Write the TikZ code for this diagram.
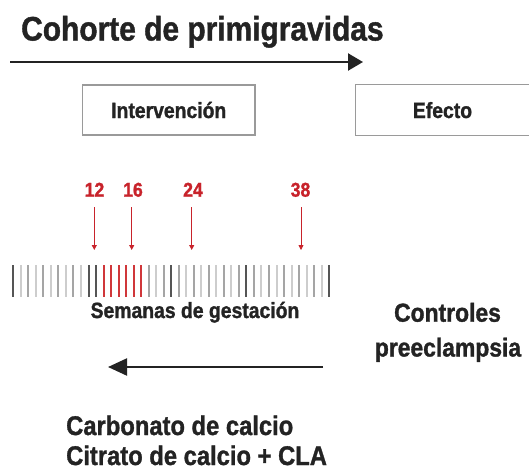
\documentclass[tikz,border=0pt]{standalone}
\usepackage{fontspec}
\newfontfamily\cf{Liberation Sans}[FakeStretch=0.88, BoldFeatures={FakeBold=1.2}]
\usetikzlibrary{arrows.meta}
\definecolor{ink}{HTML}{232323}
\definecolor{redc}{HTML}{C8232B}
\definecolor{boxgray}{HTML}{9A9A9A}
\definecolor{barlight}{HTML}{CDCDCD}
\definecolor{barmid}{HTML}{A5A5A5}
\definecolor{bardark}{HTML}{555555}
\definecolor{barred}{HTML}{D0373A}
\tikzset{
  txt/.style={inner sep=0pt, text=ink, font=\cf\bfseries},
  labelbox/.style={draw=boxgray, line width=1.1pt, inner sep=0pt, text=ink,
     font=\cf\bfseries\fontsize{22}{26}\selectfont, minimum height=50pt, text height=16pt, text depth=0pt},
  num/.style={inner sep=0pt, text=redc, font=\cf\bfseries\fontsize{20}{24}\selectfont, anchor=base},
  redarrow/.style={draw=redc, line width=0.8pt, -{Triangle[length=5pt,width=5pt]}},
  bigarrow/.style={draw=ink, line width=2.2pt, -{Triangle[length=15pt,width=17pt]}},
  bar/.style={line width=2pt}
}
\begin{document}
\begin{tikzpicture}[x=1pt,y=-1pt]
\useasboundingbox[fill=white] (0,0) rectangle (529,474);
% title
\node[txt, anchor=base west, font=\cf\bfseries\fontsize{34}{40}\selectfont] (title) at (21,40.5) {Cohorte de primigravidas};
\coordinate (a1) at (10,62);
\coordinate (a2) at (363,62);
\draw[bigarrow] (a1) -- (a2);
% boxes
\node[labelbox, minimum width=172.5pt] (interv) at (168.75,110) {Intervención};
\node[labelbox, draw=none, minimum width=173pt] (efecto) at (442.5,110) {Efecto};
\draw[boxgray, line width=1.1pt] (efecto.north east) -- (efecto.north west) -- (efecto.south west) -- (efecto.south east);
% numbers
\node[num] (n12) at (94.5,196.7) {12};
\node[num] (n16) at (133,196.7) {16};
\node[num] (n24) at (193,196.7) {24};
\node[num] (n38) at (300.5,196.7) {38};
\foreach \n/\x in {n12/94.3,n16/131.7,n24/191.7,n38/301}{
  \draw[redarrow] (\x,207) -- (\x,250);
}
% bars
\foreach \i in {1,3,5,7,9,19,23,25,27,29,33,35,37,39,41}{
  \draw[bar, barlight] ({13.3+7.52*\i},265) -- ({13.3+7.52*\i},297);}
\foreach \i in {2,4,6,8,18,20,22,24,26,28,30,32,34,36,38,40}{
  \draw[bar, barmid] ({13.3+7.52*\i},265) -- ({13.3+7.52*\i},297);}
\foreach \i in {0,10,11,21,31,42}{
  \draw[bar, bardark] ({13.3+7.52*\i},265) -- ({13.3+7.52*\i},297);}
\foreach \i in {12,...,17}{
  \draw[bar, barred] ({13.3+7.52*\i},265) -- ({13.3+7.52*\i},297);}
\node[txt, anchor=base, font=\cf\bfseries\fontsize{22}{26}\selectfont] (semanas) at (195,318) {Semanas de gestación};
% right text
\node[txt, anchor=base, font=\cf\bfseries\fontsize{26}{34}\selectfont] (controles) at (447.5,321.7) {Controles};
\node[txt, anchor=base, font=\cf\bfseries\fontsize{26}{34}\selectfont] (preec) at (448,356.5) {preeclampsia};
% back arrow
\coordinate (b1) at (323,367);
\coordinate (b2) at (108,367);
\draw[bigarrow, -{Triangle[length=19pt,width=17pt]}] (b1) -- (b2);
% bottom text
\node[txt, anchor=base west, font=\cf\bfseries\fontsize{27}{30}\selectfont] (carb) at (66,435) {Carbonato de calcio};
\node[txt, anchor=base west, font=\cf\bfseries\fontsize{27}{30}\selectfont] (citr) at (66,465) {Citrato de calcio + CLA};
\end{tikzpicture}
\end{document}
